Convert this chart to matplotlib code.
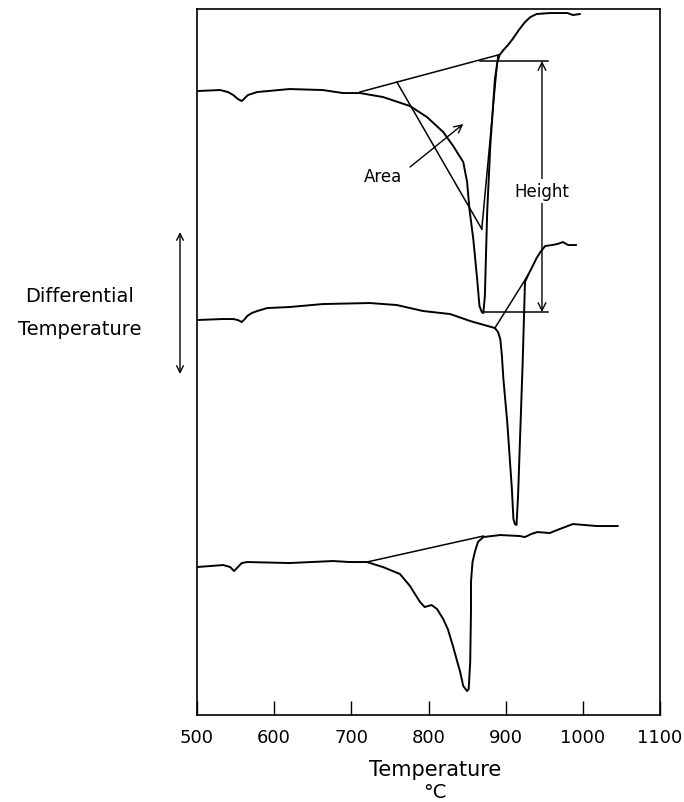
import matplotlib
matplotlib.use("Agg")
import matplotlib.pyplot as plt

# DTA curves, temperature in deg C, differential temperature in arbitrary units
top_t = [500, 530, 540, 547, 553, 558, 562, 566, 578, 620, 663, 689, 711, 741,
         776, 798, 819, 832, 845, 850, 853, 858, 863, 866, 869, 871, 873, 876,
         880, 886, 889, 892, 897, 903, 909, 917, 925, 932, 940, 957, 980, 987,
         996]
top_dt = [624, 625, 623, 620, 616, 614, 617, 620, 623, 626, 625, 622, 622, 618,
          609, 598, 583, 569, 553, 533, 506, 476, 436, 409, 403, 402, 419, 503,
          569, 636, 652, 660, 665, 670, 676, 685, 693, 698, 701, 702, 702, 700,
          701]

mid_t = [500, 533, 547, 553, 558, 562, 565, 571, 578, 591, 620, 663, 724, 759,
         793, 828, 854, 886, 890, 893, 895, 897, 902, 908, 910, 912, 914, 916,
         919, 922, 925, 929, 935, 940, 945, 951, 960, 967, 974, 981, 991]
mid_dt = [395, 396, 396, 395, 393, 396, 399, 402, 404, 407, 408, 411, 412, 410,
          404, 401, 394, 387, 383, 376, 360, 336, 293, 226, 196, 191, 190, 219,
          286, 353, 433, 440, 449, 457, 463, 469, 470, 471, 473, 470, 470]

bot_t = [500, 534, 543, 548, 553, 558, 565, 620, 676, 698, 720, 741, 763, 776,
         789, 795, 804, 811, 819, 825, 832, 837, 841, 845, 850, 852, 854, 855,
         855, 857, 860, 864, 871, 893, 918, 925, 933, 941, 957, 970, 987, 1018,
         1045]
bot_dt = [148, 150, 148, 144, 148, 152, 153, 152, 154, 153, 153, 148, 141, 129,
          113, 108, 110, 106, 96, 86, 68, 54, 43, 29, 24, 26, 53, 103, 133, 153,
          163, 173, 178, 180, 179, 178, 181, 183, 182, 186, 191, 189, 189]

# peak construction lines (start, end)
top_base = [(711, 623), (890, 660)]
top_fall = [(759, 633), (869, 486)]
top_rise = [(869, 486), (890, 660)]
mid_rise = [(886, 387), (929, 440)]
bot_base = [(720, 153), (871, 179)]

height_top = 654
height_bot = 403
height_x = 947

xticks = [500, 600, 700, 800, 900, 1000, 1100]

fig = plt.figure(figsize=(6.84, 8.03), dpi=100)
ax = fig.add_axes([0.288, 0.1083, 0.677, 0.8792])

for t, dt in [(top_t, top_dt), (mid_t, mid_dt), (bot_t, bot_dt)]:
    ax.plot(t, dt, color="black", lw=1.4, solid_joinstyle="round")

for seg in [top_base, top_fall, top_rise, mid_rise, bot_base]:
    ax.plot([seg[0][0], seg[1][0]], [seg[0][1], seg[1][1]], color="black", lw=1.1)

# height markers
ax.plot([867, 955], [height_top, height_top], color="black", lw=1.1)
ax.plot([871, 955], [height_bot, height_bot], color="black", lw=1.1)
ax.annotate("", xy=(height_x, height_top), xytext=(height_x, height_bot),
            arrowprops=dict(arrowstyle="<->", color="black", lw=1.0,
                            shrinkA=0, shrinkB=0, mutation_scale=14))
ax.text(height_x, 524, "Height", ha="center", va="center", fontsize=12,
        bbox=dict(facecolor="white", edgecolor="none", pad=2))

# area label
ax.text(741, 539, "Area", ha="center", va="center", fontsize=12)
ax.annotate("", xy=(845, 591), xytext=(776, 548),
            arrowprops=dict(arrowstyle="->", color="black", lw=1.0,
                            shrinkA=0, shrinkB=0, mutation_scale=14))

ax.set_xlim(500, 1100)
ax.set_ylim(0, 706)
ax.set_xticks(xticks)
ax.set_xticklabels([str(v) for v in xticks], fontsize=13)
ax.set_yticks([])
ax.tick_params(axis="x", direction="in", length=10, width=1, pad=9)
for s in ax.spines.values():
    s.set_linewidth(1.2)

fig.text(435, 803 - 770, "Temperature", transform=None, fontsize=15,
         ha="center", va="center")
fig.text(435, 803 - 793, "\u00b0C", transform=None, fontsize=14,
         ha="center", va="center")

fig.text(80, 803 - 297, "Differential", transform=None, fontsize=14,
         ha="center", va="center")
fig.text(80, 803 - 330, "Temperature", transform=None, fontsize=14,
         ha="center", va="center")
ax.annotate("", xy=(180, 803 - 233), xytext=(180, 803 - 375),
            xycoords="figure pixels", textcoords="figure pixels",
            arrowprops=dict(arrowstyle="<->", color="black", lw=1.0,
                            shrinkA=0, shrinkB=0, mutation_scale=12))

fig.savefig("out.png", dpi=100)
